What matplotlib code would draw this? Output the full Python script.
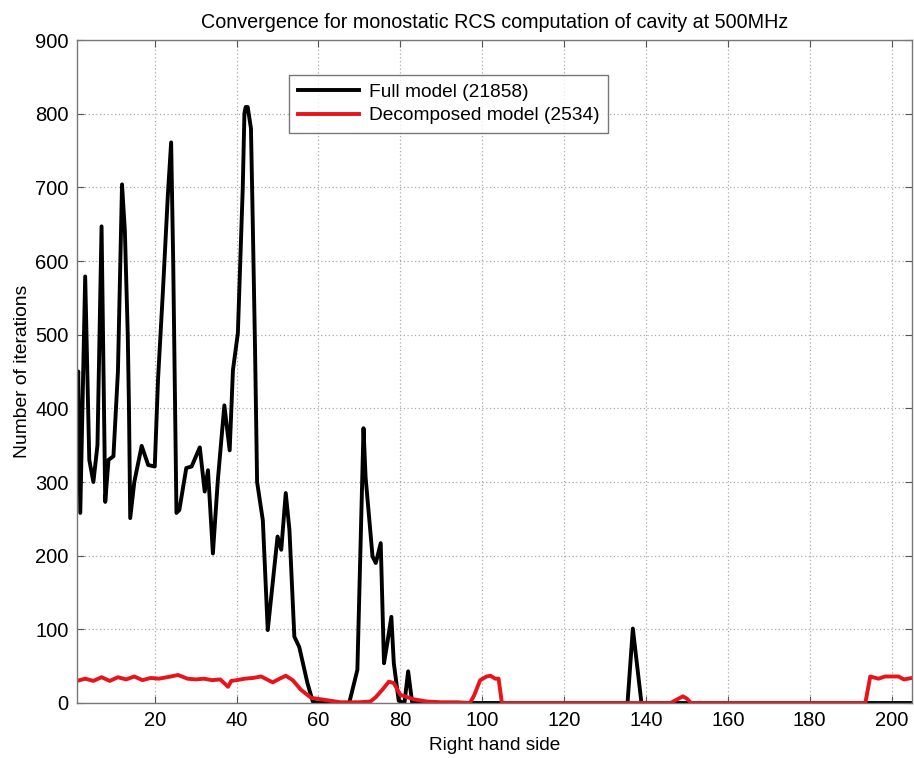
import matplotlib
matplotlib.use("Agg")
import matplotlib.pyplot as plt

# Full model (black)
full_x = [1, 1.3, 1.8, 3, 4, 5, 6, 7, 7.9, 8.7, 9.9, 11, 12, 12.7, 13.4, 13.7, 14, 15, 16.8, 18.4,
          20, 20.8, 22, 23.2, 24, 24.5, 25.3, 26, 27.7, 29, 31, 32.2, 33, 34.2, 35.4, 37, 38.3,
          39.1, 40.3, 41.5, 41.9, 42.2, 42.7, 43.5, 43.9, 44.5, 45, 46.4, 47.6, 50, 50.9, 52, 52.9,
          54.1, 55.3, 57.3, 58.6, 60, 67.5, 69.5, 71, 71.5, 73.2, 74, 75.2, 76, 76.8, 77.8,
          78.4, 79.6, 81, 81.9, 82.9, 135.5, 136.8, 138.9, 205]
full_y = [420, 450, 258, 579, 330, 300, 350, 647, 273, 330, 335, 450, 704, 640, 500, 400, 251, 300, 349, 323,
          321, 440, 560, 690, 761, 600, 258, 262, 319, 321, 347, 287, 316, 203, 302, 404, 343,
          452, 502, 700, 800, 809, 809, 780, 665, 480, 300, 248, 99, 226, 208, 285, 235,
          90, 76, 27, 2, 0, 0, 45, 373, 307, 199, 190, 217, 54, 81, 117,
          54, 3, 0, 43, 0, 0, 101, 0, 0]

# Decomposed model (red)
dec_x = [1, 3, 5, 7, 9, 11, 13, 15, 17, 19, 21, 23, 25.7, 28, 30, 32, 34, 36, 37.9, 38.7,
         40, 42, 44, 46, 48.8, 50.5, 52, 53.7, 55.7, 58.2, 60.6, 63, 65.4, 70, 72.7, 74,
         75.6, 77.2, 78.4, 80, 83.3, 86.5, 90, 94, 97, 98, 99.5, 101.1, 102, 103.2, 104,
         104.8, 146, 148, 149, 150, 151, 193.6, 194.8, 196.8, 198.4, 201.7, 203, 205]
dec_y = [30, 33, 30, 35, 30, 35, 32, 36, 31, 34, 33, 35, 38, 33, 32, 33, 31, 32, 22, 30,
         31, 33, 34, 36, 28, 33, 37, 31, 18, 7, 5, 3, 1, 1, 2, 8,
         18, 29, 27, 11, 5, 2, 1, 1, 0, 10, 31, 36, 37, 33, 33,
         0, 0, 6, 9, 6, 0, 0, 36, 33, 36, 36, 32, 34]

labels = ["Full model (21858)", "Decomposed model (2534)"]
xticks = list(range(20, 201, 20))
yticks = list(range(0, 901, 100))

plt.rcParams['font.family'] = ['Liberation Sans', 'DejaVu Sans']

fig = plt.figure(figsize=(9.14, 7.58), dpi=100)
ax = fig.add_axes([77/914, 1-703/758, (912-77)/914, (703-40)/758])

ax.plot(full_x, full_y, color='black', lw=2.8, label=labels[0])
ax.plot(dec_x, dec_y, color='#e8141c', lw=2.8, label=labels[1])

ax.set_xlim(1, 205)
ax.set_ylim(0, 900)
ax.set_xticks(xticks)
ax.set_yticks(yticks)
ax.tick_params(direction='in', top=True, right=True, labelsize=14.5, length=5,
               color='#555555', pad=6)
ax.grid(True, linestyle=(0, (1, 2)), color='#aaaaaa', lw=0.9)
for s in ax.spines.values():
    s.set_color('#777777')
    s.set_linewidth(1.0)

ax.set_title("Convergence for monostatic RCS computation of cavity at 500MHz",
             fontsize=14.2, pad=9)
ax.set_xlabel("Right hand side", fontsize=13.7, labelpad=5)
ax.set_ylabel("Number of iterations", fontsize=13.9, labelpad=3)

leg = ax.legend(loc='upper left', bbox_to_anchor=(0.254, 0.947), fontsize=13.8,
                frameon=True, fancybox=False, edgecolor='#555555', handlelength=3.2,
                borderpad=0.45, labelspacing=0.3, handletextpad=0.5, borderaxespad=0)
leg.get_frame().set_linewidth(1.0)

fig.savefig("out.png", dpi=100)
